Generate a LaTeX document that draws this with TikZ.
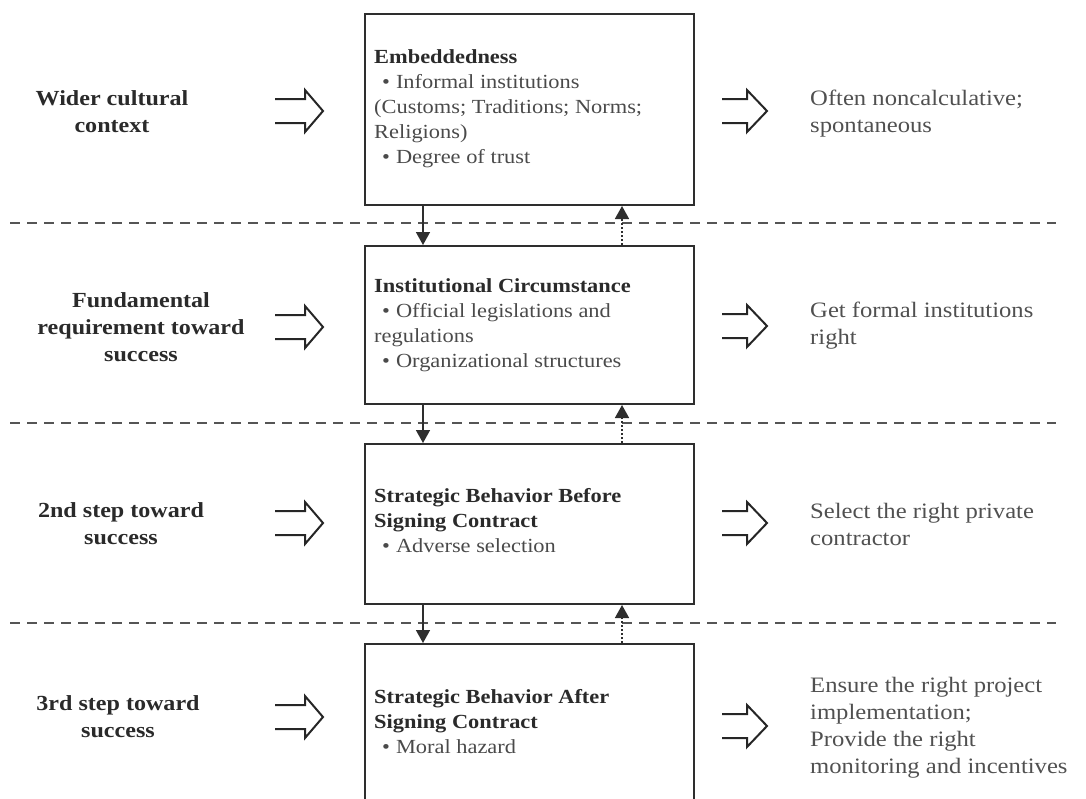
\documentclass[tikz,border=0pt]{standalone}
\usepackage{fontspec}
\setmainfont{Liberation Serif}[FakeStretch=1.12]
\usetikzlibrary{arrows.meta}
\definecolor{linecol}{HTML}{2E2E2E}
\definecolor{dashcol}{HTML}{555555}
\definecolor{boldcol}{HTML}{2A2A2A}
\definecolor{bodycol}{HTML}{4A4A4A}
\definecolor{rightcol}{HTML}{505050}
\tikzset{
  box/.style={draw=linecol, line width=2pt, inner sep=0pt, anchor=north west, minimum width=329pt},
  lab/.style={inner sep=0pt, anchor=base, text=boldcol, font=\fontsize{21.5}{27}\selectfont\bfseries},
  boxtext/.style={inner sep=0pt, anchor=base west, text=bodycol, font=\fontsize{20}{25}\selectfont},
  result/.style={inner sep=0pt, anchor=base west, text=rightcol, font=\fontsize{22}{27}\selectfont},
  sepline/.style={draw=dashcol, line width=1.8pt, dash pattern=on 10pt off 7pt},
  downarr/.style={draw=linecol, line width=1.6pt, -{Triangle[length=13pt,width=14pt]}},
  uparr/.style={draw=linecol, line width=1.6pt, dash pattern=on 2pt off 2pt, -{Triangle[length=13pt,width=14pt]}},
  hollow/.style={draw=black!85, line width=2pt, line join=miter}
}
\newcommand{\bul}{\hspace*{8pt}•\hspace{6pt}}
\begin{document}
\begin{tikzpicture}[x=1pt,y=-1pt]
\useasboundingbox (0,0) rectangle (1086,798);
\clip (0,0) rectangle (1086,798);

% dashed separators
\coordinate (s1l) at (10,223); \coordinate (s1r) at (1056,223);
\coordinate (s2l) at (10,423); \coordinate (s2r) at (1056,423);
\coordinate (s3l) at (10,623); \coordinate (s3r) at (1056,623);
\draw[sepline] (s1l) -- (s1r);
\draw[sepline] (s2l) -- (s2r);
\draw[sepline] (s3l) -- (s3r);

% boxes
\node[box, minimum height=191pt] (b1) at (364,13) {};
\node[box, minimum height=158pt] (b2) at (364,245) {};
\node[box, minimum height=160pt] (b3) at (364,443) {};
\node[box, minimum height=180pt] (b4) at (364,643) {};

% box texts
\node[boxtext] (t1) at (374,63) {\begin{tabular}[t]{@{}l@{}}\textbf{\color{boldcol}Embeddedness}\\
\bul Informal institutions\\(Customs; Traditions; Norms;\\Religions)\\\bul Degree of trust\end{tabular}};
\node[boxtext] (t2) at (374,292) {\begin{tabular}[t]{@{}l@{}}\textbf{\color{boldcol}Institutional Circumstance}\\
\bul Official legislations and\\regulations\\\bul Organizational structures\end{tabular}};
\node[boxtext] (t3) at (374,502) {\begin{tabular}[t]{@{}l@{}}\textbf{\color{boldcol}Strategic Behavior Before}\\
\textbf{\color{boldcol}Signing Contract}\\\bul Adverse selection\end{tabular}};
\node[boxtext] (t4) at (374,703) {\begin{tabular}[t]{@{}l@{}}\textbf{\color{boldcol}Strategic Behavior After}\\
\textbf{\color{boldcol}Signing Contract}\\\bul Moral hazard\end{tabular}};

% vertical arrows
\draw[downarr] ([xshift=59pt]b1.south west) -- ([xshift=59pt]b2.north west);
\draw[uparr] ([xshift=258pt]b2.north west) -- ([xshift=258pt]b1.south west);
\draw[downarr] ([xshift=59pt]b2.south west) -- ([xshift=59pt]b3.north west);
\draw[uparr] ([xshift=258pt]b3.north west) -- ([xshift=258pt]b2.south west);
\draw[downarr] ([xshift=59pt]b3.south west) -- ([xshift=59pt]b4.north west);
\draw[uparr] ([xshift=258pt]b4.north west) -- ([xshift=258pt]b3.south west);

% left labels
\node[lab] (l1) at (112,105) {\begin{tabular}[t]{@{}c@{}}Wider cultural\\context\end{tabular}};
\node[lab] (l2) at (141,307) {\begin{tabular}[t]{@{}c@{}}Fundamental\\requirement toward\\success\end{tabular}};
\node[lab] (l3) at (121,517) {\begin{tabular}[t]{@{}c@{}}2nd step toward\\success\end{tabular}};
\node[lab] (l4) at (118,710) {\begin{tabular}[t]{@{}c@{}}3rd step toward\\success\end{tabular}};

% right results
\node[result] (r1) at (810,105) {\begin{tabular}[t]{@{}l@{}}Often noncalculative;\\spontaneous\end{tabular}};
\node[result] (r2) at (810,317) {\begin{tabular}[t]{@{}l@{}}Get formal institutions\\right\end{tabular}};
\node[result] (r3) at (810,518) {\begin{tabular}[t]{@{}l@{}}Select the right private\\contractor\end{tabular}};
\node[result] (r4) at (810,692) {\begin{tabular}[t]{@{}l@{}}Ensure the right project\\implementation;\\Provide the right\\monitoring and incentives\end{tabular}};

% hollow double arrows, left
\coordinate (la1) at (275,111);
\coordinate (la2) at (275,327);
\coordinate (la3) at (275,523);
\coordinate (la4) at (275,717);
\foreach \c in {la1,la2,la3,la4}
  \draw[hollow] (\c) ++(0,-12) -- ++(30,0) -- ++(0,-9) -- ++(18,21) -- ++(-18,21) -- ++(0,-9) -- ++(-30,0);
% hollow double arrows, right
\coordinate (ra1) at (722,111);
\coordinate (ra2) at (722,326);
\coordinate (ra3) at (722,523);
\coordinate (ra4) at (722,726);
\foreach \c in {ra1,ra2,ra3,ra4}
  \draw[hollow] (\c) ++(0,-12) -- ++(25,0) -- ++(0,-9) -- ++(20,21) -- ++(-20,21) -- ++(0,-9) -- ++(-25,0);
\end{tikzpicture}
\end{document}
